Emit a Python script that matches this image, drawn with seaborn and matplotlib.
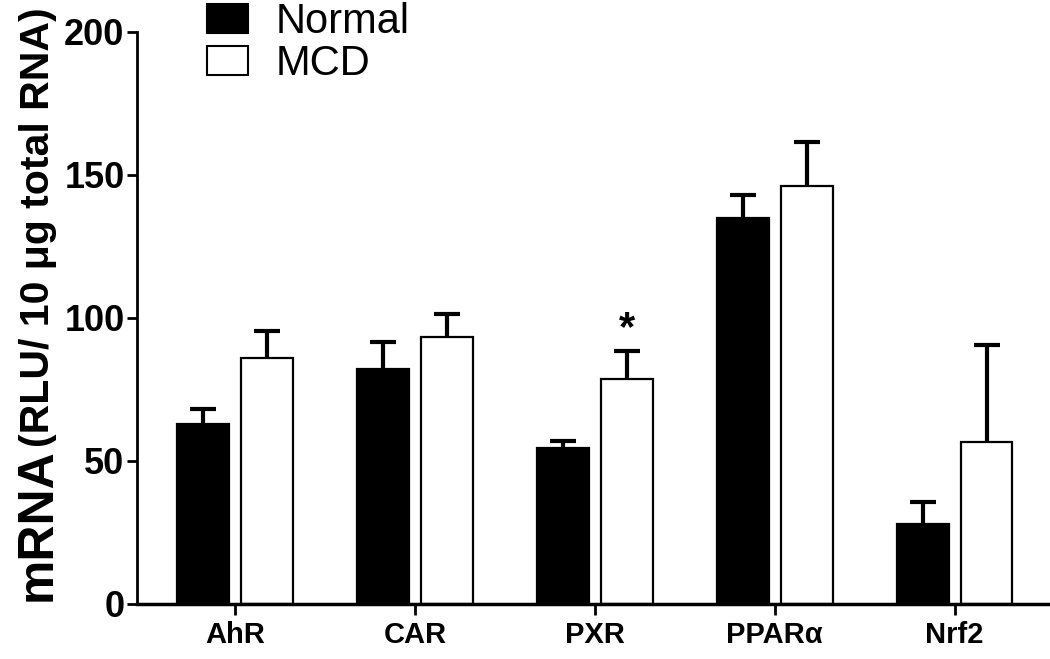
import pandas as pd
import numpy as np
import seaborn as sns
import matplotlib.pyplot as plt
from matplotlib.patches import Patch

# values
genes = ["AhR", "CAR", "PXR", "PPARα", "Nrf2"]
groups = ["Normal", "MCD"]
normal_mean = [63, 82, 54.5, 135, 28]
normal_sem = [5, 9.5, 2.5, 8, 7.5]
mcd_mean = [86, 93.5, 78.5, 146, 56.5]
mcd_sem = [9.5, 8, 10, 15.5, 34]
star_gene = "PXR"

sns.set_style("ticks")
plt.rcParams['font.family'] = ['Liberation Sans', 'DejaVu Sans']
plt.rcParams.update({'text.color': 'black', 'axes.edgecolor': 'black',
                     'xtick.color': 'black', 'ytick.color': 'black'})

df = pd.DataFrame({
    "gene": genes * 2,
    "group": ["Normal"] * 5 + ["MCD"] * 5,
    "mrna": normal_mean + mcd_mean,
    "sem": normal_sem + mcd_sem,
})

fig = plt.figure(figsize=(10.5, 6.59), dpi=100)
ax = fig.add_axes([0.1305, 0.0835, 0.8695, 0.868])

sns.barplot(data=df, x="gene", y="mrna", hue="group", order=genes, hue_order=groups,
            palette={"Normal": "black", "MCD": "white"}, edgecolor="black", linewidth=1.6,
            width=0.71, gap=0.19, errorbar=None, legend=False, ax=ax)

# upper-only error bars
for patch, (_, row) in zip(ax.patches, df.iterrows()):
    xc = patch.get_x() + patch.get_width() / 2
    eb = ax.errorbar(xc, row["mrna"], yerr=[[0], [row["sem"]]], fmt="none", ecolor="black",
                     elinewidth=3, capsize=9.5, capthick=3, zorder=1)
    eb[1][0].set_visible(False)
    if row["gene"] == star_gene and row["group"] == "MCD":
        ax.text(xc, row["mrna"] + row["sem"] + 0.5, "*", ha="center", va="bottom",
                fontsize=30, fontweight="bold")

ax.set_ylim(0, 200)
ax.set_xlim(-0.544, 4.53)
ax.set_yticks([0, 50, 100, 150, 200])
ax.set_xlabel("")
ax.set_ylabel("")
ax.tick_params(axis="y", labelsize=26, width=2, length=7, direction="out", pad=2)
ax.tick_params(axis="x", labelsize=21, width=2, length=8, direction="out", pad=4)
for lab in ax.get_xticklabels() + ax.get_yticklabels():
    lab.set_fontweight("bold")
sns.despine(ax=ax)
ax.spines["left"].set_linewidth(2)
ax.spines["bottom"].set_linewidth(2.5)

fig.text(0.036, 0.088, "mRNA", rotation=90, ha="center", va="bottom",
         fontsize=36, fontweight="bold")
fig.text(0.036, 0.322, "(RLU/ 10 μg total RNA)", rotation=90, ha="center", va="bottom",
         fontsize=29.5, fontweight="bold")

handles = [Patch(facecolor="black", edgecolor="black", linewidth=1.5),
           Patch(facecolor="white", edgecolor="black", linewidth=1.5)]
fig.legend(handles, groups, loc="upper left", bbox_to_anchor=(0.173, 1.035), frameon=False,
           fontsize=30, handlelength=1.0, handleheight=0.72, handletextpad=0.65,
           labelspacing=0.05, borderpad=0.1)

fig.savefig("out.png", dpi=100)
